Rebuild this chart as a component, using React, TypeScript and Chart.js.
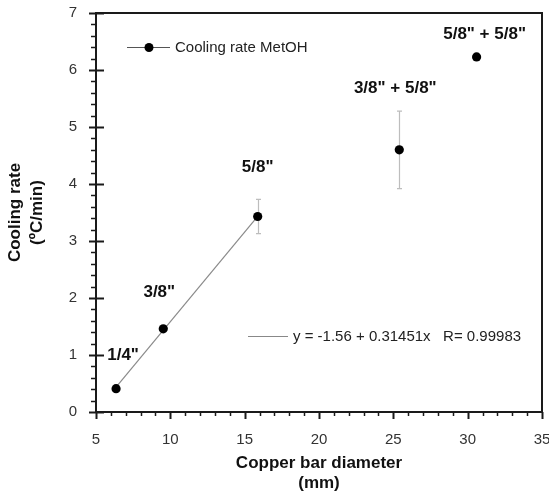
import React, { useEffect, useRef } from 'react';
import { Chart, registerables } from 'chart.js';

Chart.register(...registerables);

// ---- data ----
const diameters = [6.35, 9.525, 15.875, 25.4, 30.6];
const coolingRates = [0.41, 1.46, 3.43, 4.6, 6.23];
const rateErrors = [0, 0, 0.3, 0.68, 0];
const pointLabels = ['1/4"', '3/8"', '5/8"', '3/8" + 5/8"', '5/8" + 5/8"'];
const fitIntercept = -1.56;
const fitSlope = 0.31451;
const fitR = 0.99983;
const fitRange = [6.35, 15.875];
const xTickValues = [5, 10, 15, 20, 25, 30, 35];
const yTickValues = [0, 1, 2, 3, 4, 5, 6, 7];
const xTitle = ['Copper bar diameter', '(mm)'];
const yTitle = ['Cooling rate', '(ºC/min)'];
const seriesName = 'Cooling rate MetOH';
const fitLegend = `y = ${fitIntercept} + ${fitSlope}x   R= ${fitR}`;

// ---- styling (not data) ----
const FONT = '"Liberation Sans", Arial, Helvetica, sans-serif';
const LABEL_OFFSETS = [
  [7, -33],
  [-4, -36],
  [0, -49],
  [-4, -61],
  [8, -23],
];

const overlay = {
  id: 'overlay',
  beforeDatasetsDraw(chart: any) {
    const { ctx, scales } = chart;
    const x = scales.x;
    const y = scales.y;
    ctx.save();
    ctx.strokeStyle = '#bdbdbd';
    ctx.lineWidth = 1.2;
    diameters.forEach((d, i) => {
      const e = rateErrors[i];
      if (!e) return;
      const px = Math.round(x.getPixelForValue(d)) + 0.5;
      const t = y.getPixelForValue(coolingRates[i] + e);
      const b = y.getPixelForValue(coolingRates[i] - e);
      ctx.beginPath();
      ctx.moveTo(px, t);
      ctx.lineTo(px, b);
      ctx.moveTo(px - 2.5, t);
      ctx.lineTo(px + 2.5, t);
      ctx.moveTo(px - 2.5, b);
      ctx.lineTo(px + 2.5, b);
      ctx.stroke();
    });
    ctx.restore();
  },
  afterDraw(chart: any) {
    const { ctx, chartArea, scales } = chart;
    const x = scales.x;
    const y = scales.y;
    const { left, right, top, bottom } = chartArea;
    ctx.save();
    // frame
    ctx.strokeStyle = '#1a1a1a';
    ctx.lineWidth = 2;
    ctx.strokeRect(left, top, right - left, bottom - top);

    // y ticks
    ctx.strokeStyle = '#1a1a1a';
    const yMin = yTickValues[0];
    const yMax = yTickValues[yTickValues.length - 1];
    for (let k = 0; k <= (yMax - yMin) * 5; k++) {
      const v = yMin + k * 0.2;
      const py = Math.round(y.getPixelForValue(v)) + 0.5;
      const major = k % 5 === 0;
      ctx.lineWidth = major ? 2 : 1.5;
      ctx.beginPath();
      if (major) {
        ctx.moveTo(left - 7, py);
        ctx.lineTo(left + 8, py);
      } else {
        ctx.moveTo(left - 5, py);
        ctx.lineTo(left, py);
      }
      ctx.stroke();
    }
    // x ticks
    const xMin = xTickValues[0];
    const xMax = xTickValues[xTickValues.length - 1];
    for (let v = xMin; v <= xMax; v++) {
      const px = Math.round(x.getPixelForValue(v)) + 0.5;
      const major = (v - xMin) % 5 === 0;
      ctx.lineWidth = major ? 2 : 1.5;
      ctx.beginPath();
      ctx.moveTo(px, bottom);
      ctx.lineTo(px, bottom + (major ? 7 : 4));
      ctx.stroke();
    }

    // point labels
    ctx.fillStyle = '#111';
    ctx.font = `bold 17px ${FONT}`;
    ctx.textAlign = 'center';
    ctx.textBaseline = 'middle';
    diameters.forEach((d, i) => {
      const px = x.getPixelForValue(d) + LABEL_OFFSETS[i][0];
      const py = y.getPixelForValue(coolingRates[i]) + LABEL_OFFSETS[i][1];
      ctx.fillText(pointLabels[i], px, py);
    });

    // legend 1 (series)
    ctx.font = `15px ${FONT}`;
    ctx.textAlign = 'left';
    const l1y = top + 34;
    ctx.strokeStyle = '#555';
    ctx.lineWidth = 1;
    ctx.beginPath();
    ctx.moveTo(left + 31, l1y + 0.5);
    ctx.lineTo(left + 74, l1y + 0.5);
    ctx.stroke();
    ctx.fillStyle = '#000';
    ctx.beginPath();
    ctx.arc(left + 53, l1y + 0.5, 4.5, 0, Math.PI * 2);
    ctx.fill();
    ctx.fillStyle = '#222';
    ctx.fillText(seriesName, left + 79, l1y + 1);

    // legend 2 (fit)
    const l2y = y.getPixelForValue(1.33);
    ctx.strokeStyle = '#888';
    ctx.beginPath();
    ctx.moveTo(left + 152, Math.round(l2y) + 0.5);
    ctx.lineTo(left + 192, Math.round(l2y) + 0.5);
    ctx.stroke();
    ctx.fillStyle = '#222';
    ctx.fillText(fitLegend, left + 197, l2y + 1);
    ctx.restore();
  },
};

export default function App() {
  const ref = useRef<HTMLCanvasElement | null>(null);
  useEffect(() => {
    if (!ref.current) return;
    Chart.defaults.font.family = FONT;
    const fitData = fitRange.map((v) => ({ x: v, y: fitIntercept + fitSlope * v }));
    const chart = new Chart(ref.current, {
      type: 'scatter',
      data: {
        datasets: [
          {
            label: 'fit',
            data: fitData,
            showLine: true,
            borderColor: '#8a8a8a',
            borderWidth: 1.2,
            pointRadius: 0,
            order: 2,
          },
          {
            label: seriesName,
            data: diameters.map((d, i) => ({ x: d, y: coolingRates[i] })),
            showLine: false,
            pointRadius: 4.6,
            pointBackgroundColor: '#000',
            pointBorderColor: '#000',
            pointBorderWidth: 0,
            order: 1,
          },
        ],
      },
      options: {
        responsive: false,
        animation: false,
        layout: { padding: { top: 13, right: 7, left: 0, bottom: 0 } },
        plugins: { legend: { display: false }, tooltip: { enabled: false } },
        scales: {
          x: {
            type: 'linear',
            min: xTickValues[0],
            max: xTickValues[xTickValues.length - 1],
            ticks: {
              stepSize: 5,
              padding: 11,
              color: '#333',
              font: { size: 15, family: FONT },
            },
            grid: { display: false },
            border: { display: false },
            title: {
              display: true,
              text: xTitle,
              color: '#111',
              font: { size: 17, weight: 'bold', family: FONT, lineHeight: 20 / 17 },
              padding: { top: 0, bottom: 1 },
            },
            afterFit: (s: any) => {
              s.height = 82;
              s.paddingLeft = 0;
              s.paddingRight = 0;
            },
          },
          y: {
            type: 'linear',
            min: yTickValues[0],
            max: yTickValues[yTickValues.length - 1],
            ticks: {
              stepSize: 1,
              padding: 11,
              color: '#333',
              font: { size: 15, family: FONT },
            },
            grid: { display: false },
            border: { display: false },
            title: {
              display: true,
              text: yTitle,
              color: '#111',
              font: { size: 17, weight: 'bold', family: FONT, lineHeight: 22 / 17 },
              padding: { top: 4, bottom: 0 },
            },
            afterFit: (s: any) => {
              s.width = 96;
              s.paddingTop = 0;
              s.paddingBottom = 0;
            },
          },
        },
      } as any,
      plugins: [overlay],
    });
    return () => chart.destroy();
  }, []);
  return (
    <div style={{ position: 'absolute', left: 0, top: 0, width: 549, height: 494 }}>
      <canvas ref={ref} width={549} height={494} style={{ display: 'block' }} />
    </div>
  );
}
